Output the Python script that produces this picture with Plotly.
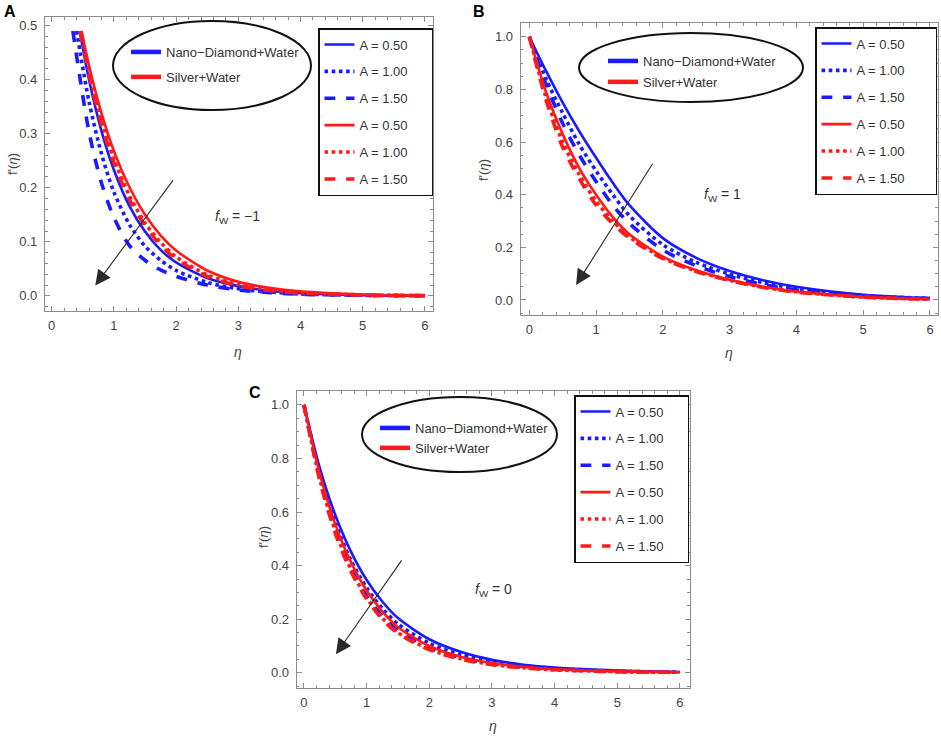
import plotly.graph_objects as go

# ---------------- data ----------------
ETA = [0, 0.25, 0.5, 0.75, 1.0, 1.25, 1.5, 2.0, 2.5, 3.0, 3.5, 4.0, 5.0, 6.0]
ETA_A = [0.6, 0.8, 1.0, 1.25, 1.5, 1.75, 2.0, 2.5, 3.0, 3.5, 4.0, 5.0, 6.0]
A_LABELS = ["A = 0.50", "A = 1.00", "A = 1.50"]
FLUIDS = ["Nano\u2212Diamond+Water", "Silver+Water"]
FW_LABELS = ["\u22121", "1", "0"]
PANELS = ["A", "B", "C"]

# panel A (f_w = -1): curves enter the frame at f' = 0.49
A_START_BLUE = [0.45, 0.40, 0.34]
A_START_RED = [0.48, 0.47, 0.46]
A_BLUE_050 = [0.49, 0.400, 0.305, 0.233, 0.166, 0.119, 0.085, 0.062, 0.033, 0.018, 0.0095, 0.005, 0.0014, 0.0004]
A_BLUE_100 = [0.49, 0.359, 0.263, 0.192, 0.132, 0.092, 0.066, 0.047, 0.025, 0.013, 0.007, 0.0035, 0.001, 0.0003]
A_BLUE_150 = [0.49, 0.303, 0.209, 0.145, 0.093, 0.066, 0.048, 0.036, 0.020, 0.011, 0.006, 0.003, 0.001, 0.0003]
A_RED_050 = [0.49, 0.426, 0.338, 0.268, 0.201, 0.150, 0.112, 0.084, 0.047, 0.026, 0.0148, 0.0083, 0.0026, 0.0008]
A_RED_100 = [0.49, 0.416, 0.324, 0.253, 0.185, 0.135, 0.099, 0.072, 0.039, 0.021, 0.011, 0.0059, 0.0017, 0.0005]
A_RED_150 = [0.49, 0.410, 0.317, 0.246, 0.178, 0.130, 0.094, 0.068, 0.036, 0.019, 0.010, 0.0053, 0.0015, 0.0004]

# panel B (f_w = 1)
B_BLUE_050 = [1.0, 0.87, 0.75, 0.64, 0.54, 0.445, 0.36, 0.235, 0.16, 0.11, 0.075, 0.05, 0.02, 0.007]
B_BLUE_100 = [1.0, 0.84, 0.71, 0.59, 0.49, 0.40, 0.32, 0.21, 0.143, 0.098, 0.066, 0.043, 0.017, 0.006]
B_BLUE_150 = [1.0, 0.82, 0.67, 0.55, 0.45, 0.36, 0.29, 0.19, 0.13, 0.089, 0.059, 0.038, 0.014, 0.005]
B_RED_050 = [1.0, 0.79, 0.63, 0.50, 0.40, 0.315, 0.25, 0.165, 0.113, 0.077, 0.05, 0.031, 0.011, 0.003]
B_RED_100 = [1.0, 0.77, 0.60, 0.475, 0.375, 0.30, 0.24, 0.16, 0.11, 0.075, 0.049, 0.031, 0.011, 0.003]
B_RED_150 = [1.0, 0.76, 0.58, 0.46, 0.36, 0.29, 0.235, 0.157, 0.108, 0.074, 0.048, 0.030, 0.011, 0.003]

# panel C (f_w = 0)
C_BLUE_050 = [1.0, 0.767, 0.589, 0.452, 0.346, 0.266, 0.204, 0.125, 0.078, 0.048, 0.030, 0.019, 0.008, 0.003]
C_BLUE_100 = [1.0, 0.745, 0.56, 0.42, 0.317, 0.24, 0.182, 0.11, 0.068, 0.042, 0.026, 0.016, 0.006, 0.002]
C_BLUE_150 = [1.0, 0.73, 0.535, 0.39, 0.287, 0.212, 0.157, 0.093, 0.056, 0.034, 0.021, 0.013, 0.005, 0.0017]
C_RED_050 = [1.0, 0.745, 0.554, 0.413, 0.307, 0.229, 0.170, 0.10, 0.06, 0.036, 0.022, 0.013, 0.005, 0.002]
C_RED_100 = [1.0, 0.725, 0.53, 0.385, 0.28, 0.205, 0.15, 0.088, 0.052, 0.031, 0.019, 0.011, 0.004, 0.0015]
C_RED_150 = [1.0, 0.72, 0.52, 0.378, 0.275, 0.2, 0.147, 0.086, 0.051, 0.03, 0.018, 0.011, 0.004, 0.0014]

# ---------------- styling ----------------
W, H = 941, 738
BLUE = "#1a1aff"
RED = "#ff1a1a"
DASHES = ["solid", "dot", "dash"]
WIDTHS = [2.6, 3.6, 3.6]
FONT = "Liberation Sans, Arial, sans-serif"
TXT = "#333333"
PAD = ["\u00a0" * 5, "\u00a0" * 7, "\u00a0" * 5]


def px(x):
    return x / W


def py(y):
    return 1 - y / H


fig = go.Figure()

panel_data = [
    ([[s] + ETA_A for s in A_START_BLUE], [A_BLUE_050, A_BLUE_100, A_BLUE_150],
     [[s] + ETA_A for s in A_START_RED], [A_RED_050, A_RED_100, A_RED_150]),
    ([ETA] * 3, [B_BLUE_050, B_BLUE_100, B_BLUE_150], [ETA] * 3, [B_RED_050, B_RED_100, B_RED_150]),
    ([ETA] * 3, [C_BLUE_050, C_BLUE_100, C_BLUE_150], [ETA] * 3, [C_RED_050, C_RED_100, C_RED_150]),
]

box_legends = ["legend", "legend3", "legend5"]
ell_legends = ["legend2", "legend4", "legend6"]

for p, (bx, by, rx, ry) in enumerate(panel_data):
    xa = "x" if p == 0 else f"x{p + 1}"
    ya = "y" if p == 0 else f"y{p + 1}"
    for color, xs, ys in ((BLUE, bx, by), (RED, rx, ry)):
        for i in range(3):
            fig.add_trace(go.Scatter(
                x=xs[i], y=ys[i], mode="lines", xaxis=xa, yaxis=ya,
                line=dict(color=color, width=WIDTHS[i], dash=DASHES[i], shape="spline", smoothing=0.8),
                name=A_LABELS[i] + PAD[p], legend=box_legends[p],
                legendgroup=f"{p}-{color}-{i}",
            ))
    for color, name in ((BLUE, FLUIDS[0]), (RED, FLUIDS[1])):
        fig.add_trace(go.Scatter(
            x=[None], y=[None], mode="lines", xaxis=xa, yaxis=ya,
            line=dict(color=color, width=4.5), name=name,
            legend=ell_legends[p], legendgroup=f"e{p}-{name}",
        ))

# axes frames (pixel boxes of the reference frames)
frames = [
    dict(x0=45, x1=433, y0=17, y1=311, xr=[-0.108, 6.13], yr=[-0.028, 0.516], dy=0.1, my=0.02),
    dict(x0=520.7, x1=938, y0=23, y1=315, xr=[-0.129, 6.12], yr=[-0.057, 1.052], dy=0.2, my=0.05),
    dict(x0=296.7, x1=690, y0=391, y1=688, xr=[-0.116, 6.16], yr=[-0.057, 1.052], dy=0.2, my=0.05),
]

axis_common = dict(
    showline=True, linecolor="#8c8c8c", linewidth=1.2, mirror="ticks",
    ticks="inside", ticklen=5, tickwidth=1, tickcolor="#8c8c8c",
    showgrid=False, zeroline=False,
    tickfont=dict(family=FONT, size=13, color="#444444"),
)

layout = dict(
    width=W, height=H, margin=dict(l=0, r=0, t=0, b=0),
    paper_bgcolor="white", plot_bgcolor="white",
    font=dict(family=FONT, color=TXT, size=13),
)
for p, fr in enumerate(frames):
    sx = "" if p == 0 else str(p + 1)
    layout[f"xaxis{sx}"] = dict(
        axis_common, domain=[px(fr["x0"]), px(fr["x1"])], range=fr["xr"],
        anchor=f"y{sx}", dtick=1, tick0=0,
        minor=dict(ticks="inside", ticklen=2.5, dtick=0.2, tickcolor="#8c8c8c"),
        ticklabelstandoff=2,
    )
    layout[f"yaxis{sx}"] = dict(
        axis_common, domain=[py(fr["y1"]), py(fr["y0"])], range=fr["yr"],
        anchor=f"x{sx}", dtick=fr["dy"], tick0=0, tickformat=".1f",
        minor=dict(ticks="inside", ticklen=2.5, dtick=fr["my"], tickcolor="#8c8c8c"),
        ticklabelstandoff=4,
    )

# legends
box_pos = [(318, 28), (815, 27), (574, 395)]
ell_pos = [(126, 37, 5), (603, 46, 1), (375, 413, 0)]
for p in range(3):
    bxp, byp = box_pos[p]
    layout[box_legends[p]] = dict(
        x=px(bxp), y=py(byp), xanchor="left", yanchor="top",
        bgcolor="white", bordercolor="#111111", borderwidth=1.5,
        font=dict(family=FONT, size=13, color=TXT),
        traceorder="grouped", tracegroupgap=7,
    )
    exp_, eyp, gap = ell_pos[p]
    layout[ell_legends[p]] = dict(
        x=px(exp_), y=py(eyp), xanchor="left", yanchor="top",
        bgcolor="rgba(0,0,0,0)", borderwidth=0,
        font=dict(family=FONT, size=13, color=TXT),
        traceorder="grouped", tracegroupgap=gap,
    )

fig.update_layout(**layout)

# ellipses around material legends
ellipses = [(113, 21, 311, 110), (579, 33, 803, 102), (362, 397, 557, 472)]
for (x0, y0, x1, y1) in ellipses:
    fig.add_shape(type="circle", xref="paper", yref="paper",
                  x0=px(x0), x1=px(x1), y0=py(y1), y1=py(y0),
                  line=dict(color="#111111", width=2), layer="above")

ann = []
# panel letters
for lab, (x, y) in zip(PANELS, [(10, 12), (479, 11), (255, 392)]):
    ann.append(dict(text=f"<b>{lab}</b>", x=px(x), y=py(y), xref="paper", yref="paper",
                    showarrow=False, font=dict(family=FONT, size=16, color="black"),
                    xanchor="center", yanchor="middle"))
# axis titles
for (x, y) in [(238, 352), (729, 353), (493, 726)]:
    ann.append(dict(text="<i>\u03b7</i>", x=px(x), y=py(y), xref="paper", yref="paper",
                    showarrow=False, font=dict(family=FONT, size=14, color="#444444"),
                    xanchor="center", yanchor="middle"))
for (x, y) in [(12, 164), (483, 170), (263, 537)]:
    ann.append(dict(text="f'(<i>\u03b7</i>)", x=px(x), y=py(y), xref="paper", yref="paper",
                    showarrow=False, textangle=-90, font=dict(family=FONT, size=13, color="#444444"),
                    xanchor="center", yanchor="middle"))
# f_w labels
fw_pos = [(2.99, 0.146), (2.9, 0.40), (3.02, 0.309)]
for p, (x, y) in enumerate(fw_pos):
    sx = "" if p == 0 else str(p + 1)
    ann.append(dict(text=f"<i>f</i><sub>W</sub> = {FW_LABELS[p]}", x=x, y=y,
                    xref=f"x{sx}", yref=f"y{sx}", showarrow=False,
                    font=dict(family=FONT, size=14, color=TXT)))
# arrows (direction of increasing A)
arrows = [((0.70, 0.019), (1.97, 0.217)), ((0.70, 0.057), (1.86, 0.523)), ((0.51, 0.069), (1.575, 0.425))]
for p, (head, tail) in enumerate(arrows):
    sx = "" if p == 0 else str(p + 1)
    ann.append(dict(text="", x=head[0], y=head[1], ax=tail[0], ay=tail[1],
                    xref=f"x{sx}", yref=f"y{sx}", axref=f"x{sx}", ayref=f"y{sx}",
                    showarrow=True, arrowhead=2, arrowsize=2.8, arrowwidth=1.1,
                    arrowcolor="#2a2a2a", standoff=0))
fig.update_layout(annotations=ann)

fig.write_html("out.html", config={"displayModeBar": False},
               post_script="document.body.style.margin='0px';")
